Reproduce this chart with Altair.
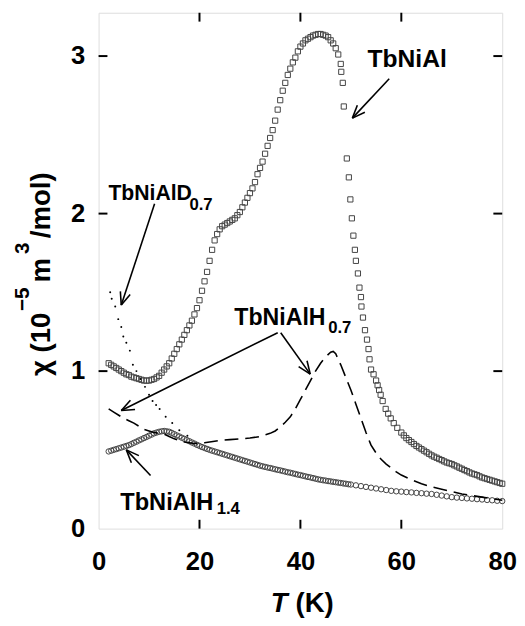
import altair as alt
import pandas as pd
import numpy as np

FONT = "Liberation Sans"

# ---- data ----
# TbNiAl (open squares)
al_T = [2.0, 2.5, 3.0, 3.5, 4.0, 4.5, 5.0, 5.5, 6.0, 6.5, 7.0, 7.5, 8.0, 8.5, 9.0, 9.5, 10.0, 10.5,
        11.0, 11.5, 12.0, 12.5, 13.0, 13.5, 14.0, 14.5, 15.0, 15.5, 16.0, 16.5, 17.0, 17.5, 18.0, 18.5,
        19.0, 19.5, 20.0, 20.5, 21.0, 21.5, 22.0, 22.5, 23.0, 23.5, 24.0, 24.5, 25.0, 25.5, 26.0, 26.5,
        27.0, 27.5, 28.0, 28.5, 29.0, 29.5, 30.0, 30.5, 31.0, 31.5, 32.0, 32.5, 33.0, 33.5, 34.0, 34.5,
        35.0, 35.5, 36.0, 36.5, 37.0, 37.5, 38.0, 38.5, 39.0, 39.5, 40.0, 40.5, 41.0, 41.5, 42.0, 42.5,
        43.0, 43.5, 44.0, 44.5, 45.0, 45.5, 46.0, 46.5, 47.0, 47.5, 48.0, 48.1, 48.4, 48.6, 49.2, 49.6,
        49.9, 50.2, 50.5, 50.8, 51.0, 51.4, 51.7, 52.0, 52.1, 52.4, 52.8, 53.2, 53.5, 53.7, 54.0, 54.5,
        55.0, 55.3, 55.6, 55.9, 56.3, 56.9, 57.4, 57.9, 58.5, 59.2, 60.0, 60.5, 61.0, 61.5, 62.0, 62.5,
        63.0, 63.5, 64.0, 64.5, 65.0, 65.5, 66.0, 66.5, 67.0, 67.5, 68.0, 68.5, 69.0, 69.5, 70.0, 70.5,
        71.0, 71.5, 72.0, 72.5, 73.0, 73.5, 74.0, 74.5, 75.0, 75.5, 76.0, 76.5, 77.0, 77.5, 78.0, 78.5,
        79.0, 79.5, 80.0]
al_chi = [1.05, 1.04, 1.03, 1.02, 1.01, 1.00, 0.99, 0.98, 0.975, 0.965, 0.96, 0.955, 0.95, 0.945, 0.94, 0.94, 0.94, 0.945,
          0.95, 0.96, 0.97, 0.99, 1.01, 1.03, 1.05, 1.08, 1.11, 1.14, 1.17, 1.20, 1.23, 1.26, 1.29, 1.32,
          1.36, 1.40, 1.45, 1.51, 1.57, 1.63, 1.70, 1.77, 1.83, 1.87, 1.90, 1.92, 1.93, 1.94, 1.95, 1.96,
          1.97, 1.99, 2.01, 2.04, 2.07, 2.10, 2.13, 2.16, 2.20, 2.25, 2.29, 2.33, 2.38, 2.43, 2.48, 2.53,
          2.59, 2.66, 2.72, 2.78, 2.83, 2.88, 2.92, 2.96, 2.99, 3.03, 3.06, 3.08, 3.10, 3.11, 3.12, 3.13,
          3.135, 3.14, 3.14, 3.135, 3.13, 3.12, 3.10, 3.08, 3.05, 3.01, 2.95, 2.90, 2.83, 2.68, 2.35, 2.23,
          2.09, 1.97, 1.86, 1.77, 1.70, 1.62, 1.53, 1.47, 1.41, 1.34, 1.26, 1.20, 1.14, 1.075, 1.01, 0.98,
          0.94, 0.91, 0.88, 0.85, 0.81, 0.76, 0.73, 0.70, 0.67, 0.64, 0.61, 0.592, 0.575, 0.562, 0.55, 0.537,
          0.525, 0.515, 0.505, 0.495, 0.485, 0.475, 0.465, 0.457, 0.45, 0.442, 0.435, 0.427, 0.42, 0.415, 0.41, 0.402,
          0.395, 0.387, 0.38, 0.372, 0.365, 0.357, 0.35, 0.345, 0.34, 0.332, 0.325, 0.32, 0.315, 0.31, 0.305, 0.30,
          0.295, 0.29, 0.285]

# TbNiAlH1.4 (open circles)
h14_T = [2.0, 2.5, 3.0, 3.5, 4.0, 4.5, 5.0, 5.5, 6.0, 6.5, 7.0, 7.5, 8.0, 8.5, 9.0, 9.5, 10.0, 10.5,
         11.0, 11.5, 12.0, 12.5, 13.0, 13.5, 14.0, 14.5, 15.0, 15.5, 16.0, 16.5, 17.0, 17.5, 18.0, 18.5,
         19.0, 19.5, 20.0, 20.5, 21.0, 21.5, 22.0, 22.5, 23.0, 23.5, 24.0, 24.5, 25.0, 25.5, 26.0, 26.5,
         27.0, 27.5, 28.0, 28.5, 29.0, 29.5, 30.0, 30.5, 31.0, 31.5, 32.0, 32.5, 33.0, 33.5, 34.0, 34.5,
         35.0, 35.5, 36.0, 36.5, 37.0, 37.5, 38.0, 38.5, 39.0, 39.5, 40.0, 40.5, 41.0, 41.5, 42.0, 42.5,
         43.0, 43.5, 44.0, 44.5, 45.0, 45.5, 46.0, 46.5, 47.0, 47.5, 48.0, 48.5, 49.0, 49.5, 50.0, 51.0,
         52.0, 53.0, 54.0, 55.0, 56.0, 57.0, 58.0, 59.0, 60.0, 61.0, 62.0, 63.0, 64.0, 65.0, 66.0, 67.0,
         68.0, 69.0, 70.0, 71.0, 72.0, 73.0, 74.0, 75.0, 76.0, 77.0, 78.0, 79.0, 80.0]
h14_chi = [0.490, 0.495, 0.500, 0.505, 0.510, 0.515, 0.520, 0.525, 0.530, 0.537, 0.545, 0.552, 0.560, 0.567,
           0.575, 0.582, 0.590, 0.597, 0.605, 0.610, 0.615, 0.618, 0.620, 0.618, 0.615, 0.608, 0.600, 0.592,
           0.585, 0.577, 0.570, 0.562, 0.555, 0.547, 0.540, 0.532, 0.525, 0.518, 0.512, 0.506, 0.500, 0.495,
           0.490, 0.485, 0.480, 0.475, 0.470, 0.465, 0.460, 0.455, 0.450, 0.445, 0.440, 0.435, 0.430, 0.425,
           0.420, 0.415, 0.410, 0.405, 0.400, 0.396, 0.392, 0.388, 0.385, 0.381, 0.377, 0.373, 0.370, 0.366,
           0.362, 0.358, 0.355, 0.351, 0.347, 0.343, 0.340, 0.336, 0.332, 0.328, 0.325, 0.321, 0.317, 0.313,
           0.310, 0.307, 0.305, 0.302, 0.300, 0.297, 0.295, 0.292, 0.290, 0.287, 0.285, 0.282, 0.280, 0.275,
           0.270, 0.265, 0.260, 0.255, 0.250, 0.245, 0.240, 0.237, 0.235, 0.232, 0.230, 0.227, 0.225, 0.222,
           0.220, 0.215, 0.210, 0.205, 0.200, 0.197, 0.195, 0.192, 0.190, 0.187, 0.185, 0.182, 0.180, 0.177,
           0.175]

# TbNiAlH0.7 (dashed line)
h07_T = [2, 3, 4, 5, 6, 7, 8, 9, 10, 11, 12, 13, 14, 15, 16, 17, 18, 19, 20, 21, 22, 23, 24, 26, 28, 30,
         32, 34, 35, 36, 37, 38, 39, 40, 41, 42, 43, 44, 45, 46, 46.5, 47, 48, 49, 50, 51, 52, 53, 54, 55,
         56, 57, 58, 59, 60, 62, 64, 66, 68, 70, 72, 74, 76, 78, 80]
h07_chi = [0.76, 0.74, 0.72, 0.70, 0.685, 0.67, 0.65, 0.63, 0.62, 0.61, 0.605, 0.60, 0.585, 0.57, 0.56, 0.55,
           0.545, 0.54, 0.54, 0.545, 0.55, 0.555, 0.56, 0.565, 0.57, 0.575, 0.585, 0.605, 0.62, 0.645, 0.675,
           0.71, 0.76, 0.82, 0.88, 0.94, 1.00, 1.05, 1.09, 1.12, 1.125, 1.11, 1.04, 0.96, 0.88, 0.79, 0.70,
           0.61, 0.53, 0.48, 0.44, 0.41, 0.385, 0.36, 0.34, 0.31, 0.285, 0.265, 0.25, 0.235, 0.22, 0.21, 0.20,
           0.19, 0.18]

# TbNiAlD0.7 (dots)
d07_T = [2.3, 2.6, 3.3, 3.9, 4.5, 4.9, 5.5, 6.2, 6.8, 7.5, 8.3, 9.2, 10.0, 10.7, 11.4, 12.1, 13.3, 14.6, 16.0, 17.6]
d07_chi = [1.50, 1.46, 1.41, 1.33, 1.28, 1.22, 1.18, 1.13, 1.04, 1.00, 0.95, 0.90, 0.85, 0.81, 0.785, 0.76,
           0.71, 0.67, 0.625, 0.59]

x_ticks = [0, 20, 40, 60, 80]
y_ticks = [0, 1, 2, 3]

X_MAX = 80
Y_MAX = 3.275
W, H = 410, 524

# annotation labels
lab_text = ["TbNiAl", "TbNiAlD", "TbNiAlH", "TbNiAlH"]
lab_T = [53.3, 1.95, 26.9, 4.3]
lab_chi = [2.93, 2.0875, 1.294, 0.119]
lab_size = [25, 21.5, 23.5, 24]
sub_text = ["0.7", "0.7", "1.4"]
sub_T = [18.0, 45.5, 23.4]
sub_chi = [2.025, 1.244, 0.094]

# arrows: start -> tip (data units)
arr_T0 = [57.6, 11.1, 35.5, 36.1, 10.3]
arr_c0 = [2.856, 2.0625, 1.244, 1.244, 0.3375]
arr_T1 = [50.3, 4.5, 4.5, 41.95, 5.5]
arr_c1 = [2.606, 1.419, 0.75, 0.981, 0.50]

# ---- build tables ----
df_al = pd.DataFrame({"T": al_T, "chi": al_chi})
df_h14 = pd.DataFrame({"T": h14_T, "chi": h14_chi})
df_h07 = pd.DataFrame({"T": h07_T, "chi": h07_chi})
df_d07 = pd.DataFrame({"T": d07_T, "chi": d07_chi})

sx = W / X_MAX
sy = H / Y_MAX
segs = []
for t0, c0, t1, c1 in zip(arr_T0, arr_c0, arr_T1, arr_c1):
    segs.append((t0, c0, t1, c1))
    dx, dy = (t0 - t1) * sx, (c0 - c1) * sy
    L = np.hypot(dx, dy)
    ux, uy = dx / L, dy / L
    for a in (np.radians(22), -np.radians(22)):
        rx = ux * np.cos(a) - uy * np.sin(a)
        ry = ux * np.sin(a) + uy * np.cos(a)
        segs.append((t1, c1, t1 + rx * 14 / sx, c1 + ry * 14 / sy))
df_arr = pd.DataFrame(segs, columns=["T", "chi", "T2", "chi2"])

xscale = alt.Scale(domain=[0, X_MAX], nice=False, zero=False)
yscale = alt.Scale(domain=[0, Y_MAX], nice=False, zero=False)

xaxis = alt.Axis(values=x_ticks, format="d", ticks=False, grid=False, domain=False, title=None,
                 labelFont=FONT, labelFontSize=26, labelFontWeight="bold", labelColor="black",
                 labelPadding=20, labelFlush=False)
yaxis = alt.Axis(values=y_ticks, format="d", ticks=False, grid=False, domain=False, title=None,
                 labelFont=FONT, labelFontSize=26, labelFontWeight="bold", labelColor="black",
                 labelPadding=14)

squares = alt.Chart(df_al).mark_point(shape="square", filled=False, size=28, stroke="#444",
                                      strokeWidth=1, opacity=1).encode(
    x=alt.X("T:Q", scale=xscale, axis=xaxis),
    y=alt.Y("chi:Q", scale=yscale, axis=yaxis),
)
circles = alt.Chart(df_h14).mark_point(shape="circle", filled=False, size=30, stroke="#444",
                                       strokeWidth=1, opacity=1).encode(x="T:Q", y="chi:Q")
dashed = alt.Chart(df_h07).mark_line(color="black", strokeWidth=1.6, strokeDash=[14, 7]).encode(
    x="T:Q", y="chi:Q")
dots = alt.Chart(df_d07).mark_circle(color="black", size=4, opacity=1).encode(x="T:Q", y="chi:Q")

# inward ticks
tk_x = pd.DataFrame({"T": [20, 40, 60]})
tk_y = pd.DataFrame({"chi": [1, 2, 3]})
tlen_y = 9 / sy
tlen_x = 9 / sx
ticks = [
    alt.Chart(tk_x).mark_rule(color="black", strokeWidth=2).encode(
        x="T:Q", y=alt.datum(0), y2=alt.datum(tlen_y)),
    alt.Chart(tk_x).mark_rule(color="black", strokeWidth=2).encode(
        x="T:Q", y=alt.datum(Y_MAX), y2=alt.datum(Y_MAX - tlen_y)),
    alt.Chart(tk_y).mark_rule(color="black", strokeWidth=2).encode(
        y="chi:Q", x=alt.datum(0), x2=alt.datum(tlen_x)),
    alt.Chart(tk_y).mark_rule(color="black", strokeWidth=2).encode(
        y="chi:Q", x=alt.datum(X_MAX), x2=alt.datum(X_MAX - tlen_x)),
]

arrows = alt.Chart(df_arr).mark_rule(color="black", strokeWidth=1.6).encode(
    x="T:Q", y="chi:Q", x2="T2:Q", y2="chi2:Q")

labels = []
for t, tx, cy, fs in zip(lab_text, lab_T, lab_chi, lab_size):
    labels.append(alt.Chart(pd.DataFrame({"T": [tx], "chi": [cy], "s": [t]})).mark_text(
        align="left", baseline="alphabetic", font=FONT, fontWeight="bold", fontSize=fs,
        color="black").encode(x="T:Q", y="chi:Q", text="s:N"))
for t, tx, cy in zip(sub_text, sub_T, sub_chi):
    labels.append(alt.Chart(pd.DataFrame({"T": [tx], "chi": [cy], "s": [t]})).mark_text(
        align="left", baseline="alphabetic", font=FONT, fontWeight="bold", fontSize=17,
        color="black").encode(x="T:Q", y="chi:Q", text="s:N"))

one = pd.DataFrame({"a": [0]})


def ptext(txt, x, y, size, angle=0, style="normal"):
    kw = dict(align="left", baseline="alphabetic", font=FONT, fontWeight="bold", fontSize=size,
              color="black", text=txt, fontStyle=style)
    if angle:
        kw["angle"] = angle
    return alt.Chart(one).mark_text(**kw).encode(x=alt.value(x), y=alt.value(y))


# axis titles (plot-area pixel coordinates: origin at plot top-left)
titles = [
    ptext("T", 175, 609, 28, style="italic"),
    ptext("(K)", 200, 609, 28),
    ptext("\u03c7 (10", -49, 369, 28, angle=270),
    ptext("\u22125", -71, 303, 21, angle=270),
    ptext("m", -49, 274, 28, angle=270),
    ptext("3", -71, 245, 21, angle=270),
    ptext("/mol)", -49, 229, 28, angle=270),
]

chart = alt.layer(squares, circles, dashed, dots, *ticks, arrows, *labels, *titles).properties(
    width=W, height=H, autosize="none",
    padding={"left": 92, "top": 0, "right": 15, "bottom": 90},
).configure_view(stroke="black", strokeWidth=2).configure(background="white")

chart.save("out.html", embed_options={"renderer": "svg", "actions": False})
